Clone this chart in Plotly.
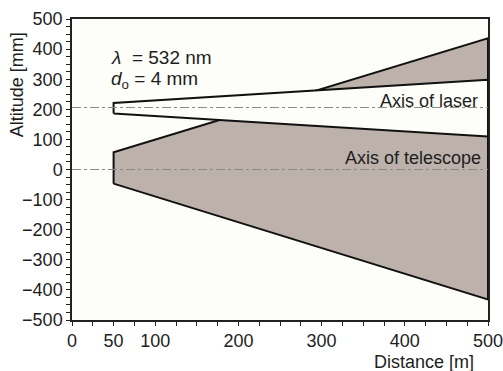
import plotly.graph_objects as go

# Data
dist_ends = [50, 500]               # start / end distance of the beams [m]
laser_upper = [221, 298]            # laser beam upper edge [mm]
laser_lower = [186, 110]            # laser beam lower edge [mm]
fov_upper = [57, 436]               # telescope field-of-view upper edge [mm]
fov_lower = [-47, -432]             # telescope field-of-view lower edge [mm]
laser_axis = 206                    # altitude of laser axis [mm]
telescope_axis = 0                  # altitude of telescope axis [mm]
x_range = [0, 500]
y_range = [-500, 500]
x_labels = [0, 50, 100, 200, 300, 400, 500]
y_labels = [-500, -400, -300, -200, -100, 0, 100, 200, 300, 400, 500]

FONT = "Liberation Sans, Arial, Helvetica, sans-serif"
FS = 18
TXT = "#1e1e1e"
GRAY_FILL = "#bdb1ab"

fig = go.Figure()

# Telescope field of view (filled polygon)
fig.add_trace(go.Scatter(
    x=[dist_ends[0], dist_ends[0], dist_ends[1], dist_ends[1], dist_ends[0]],
    y=[fov_lower[0], fov_upper[0], fov_upper[1], fov_lower[1], fov_lower[0]],
    mode="lines", fill="toself", fillcolor=GRAY_FILL,
    line=dict(color="#111111", width=2), hoverinfo="skip", showlegend=False))

# Laser beam (white polygon on top)
fig.add_trace(go.Scatter(
    x=[dist_ends[0], dist_ends[0], dist_ends[1], dist_ends[1], dist_ends[0]],
    y=[laser_lower[0], laser_upper[0], laser_upper[1], laser_lower[1], laser_lower[0]],
    mode="lines", fill="toself", fillcolor="#fdfdf9",
    line=dict(color="#111111", width=2), hoverinfo="skip", showlegend=False))

# Axes of laser and telescope
for yv in (laser_axis, telescope_axis):
    fig.add_trace(go.Scatter(
        x=x_range, y=[yv, yv], mode="lines",
        line=dict(color="#8a8a8a", width=1, dash="dashdot"),
        hoverinfo="skip", showlegend=False))

fig.update_xaxes(
    range=x_range, showgrid=False, zeroline=False, automargin=False,
    showline=True, linecolor="#222222", linewidth=1.5, mirror=True,
    ticks="outside", ticklen=4, tickwidth=1.2, tickcolor="#222222",
    tickmode="array", tickvals=x_labels, ticktext=[str(v) for v in x_labels],
    ticklabeloverflow="allow",
    minor=dict(dtick=25, tick0=0, ticks="outside", ticklen=4, tickwidth=1.2,
               tickcolor="#222222", showgrid=False),
    tickfont=dict(family=FONT, size=FS, color=TXT),
)
fig.update_yaxes(
    range=y_range, showgrid=False, zeroline=False, automargin=False,
    showline=True, linecolor="#222222", linewidth=1.5, mirror=True,
    ticks="outside", ticklen=4, tickwidth=1.2, tickcolor="#222222",
    tickmode="array", tickvals=y_labels,
    ticktext=[str(v).replace("-", "\u2212") for v in y_labels],
    ticklabeloverflow="allow",
    minor=dict(dtick=25, tick0=0, ticks="outside", ticklen=4, tickwidth=1.2,
               tickcolor="#222222", showgrid=False),
    tickfont=dict(family=FONT, size=FS, color=TXT),
)

annotations = [
    dict(text="<i>\u03bb</i>  = 532 nm", x=44, y=372, xref="x", yref="y",
         xanchor="left", yanchor="middle", showarrow=False,
         font=dict(family=FONT, size=19, color=TXT)),
    dict(text="<i>d</i><sub>o</sub> = 4 mm", x=44, y=296, xref="x", yref="y",
         xanchor="left", yanchor="middle", showarrow=False,
         font=dict(family=FONT, size=19, color=TXT)),
    dict(text="Axis of laser", x=490, y=229, xref="x", yref="y",
         xanchor="right", yanchor="middle", showarrow=False,
         font=dict(family=FONT, size=FS, color=TXT)),
    dict(text="Axis of telescope", x=494, y=37, xref="x", yref="y",
         xanchor="right", yanchor="middle", showarrow=False,
         font=dict(family=FONT, size=FS, color=TXT)),
    dict(text="Distance [m]", x=0.845, y=-0.14, xref="paper", yref="paper",
         xanchor="center", yanchor="middle", showarrow=False,
         font=dict(family=FONT, size=FS, color=TXT)),
    dict(text="Altitude [mm]", x=-0.132, y=0.78, xref="paper", yref="paper",
         xanchor="center", yanchor="middle", showarrow=False, textangle=-90,
         font=dict(family=FONT, size=FS, color=TXT)),
]

fig.update_layout(
    width=503, height=371,
    margin=dict(l=72, r=15, t=19, b=51, autoexpand=False),
    paper_bgcolor="#ffffff", plot_bgcolor="#fdfdf9",
    annotations=annotations,
    showlegend=False,
)

fig.write_html("out.html")
